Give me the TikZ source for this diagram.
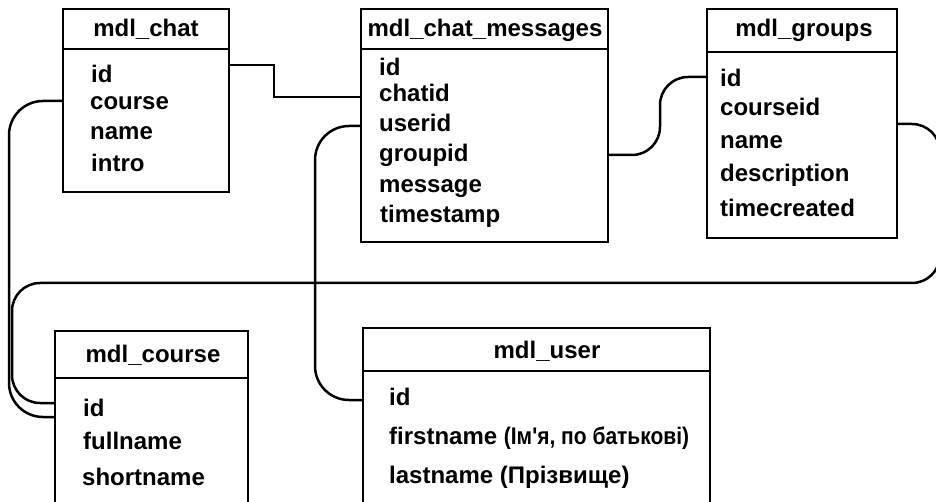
\documentclass[tikz,border=0pt]{standalone}
\usepackage{graphicx}
\usepackage{fontspec}
\setmainfont{Liberation Sans}[Ligatures=TeXOff]
\begin{document}
\begin{tikzpicture}[x=1pt,y=-1pt,
  tbl/.style={draw, line width=2.8pt, anchor=north west, inner sep=0pt, outer sep=0pt},
  hdr/.style={line width=2.8pt},
  ttl/.style={font=\fontsize{24}{28}\selectfont\bfseries, anchor=base, inner sep=0pt},
  fld/.style={font=\fontsize{24}{28}\selectfont\bfseries, anchor=base west, inner sep=0pt},
  conn/.style={line width=2.5pt},
]
\useasboundingbox (0,0) rectangle (936,502);
\clip (0,0) rectangle (936,502);

% tables
\node[tbl, minimum width=166pt, minimum height=183pt] (chat) at (63,9) {};
\draw[hdr] (chat.west |- 0,49) -- (chat.east |- 0,49);
\node[ttl] (chatT) at (146,37) {mdl\_chat};
\node[fld] (chat1) at (91,83) {id};
\node[fld] (chat2) at (90,110) {course};
\node[fld] (chat3) at (90,140) {name};
\node[fld] (chat4) at (91,172) {intro};

\node[tbl, minimum width=247pt, minimum height=233pt] (msg) at (361,9) {};
\draw[hdr] (msg.west |- 0,49) -- (msg.east |- 0,49);
\node[ttl] (msgT) at (485,37) {mdl\_chat\_messages};
\node[fld] (msg1) at (379,76) {id};
\node[fld] (msg2) at (379,102) {chatid};
\node[fld] (msg3) at (379,132) {userid};
\node[fld] (msg4) at (379,162) {groupid};
\node[fld] (msg5) at (379,193) {message};
\node[fld] (msg6) at (380,223) {timestamp};

\node[tbl, minimum width=190pt, minimum height=229pt] (grp) at (707,9) {};
\draw[hdr] (grp.west |- 0,52) -- (grp.east |- 0,52);
\node[ttl] (grpT) at (804,37) {mdl\_groups};
\node[fld] (grp1) at (720,87) {id};
\node[fld] (grp2) at (720,116) {courseid};
\node[fld] (grp3) at (720,149) {name};
\node[fld] (grp4) at (720,182) {description};
\node[fld] (grp5) at (720,217) {timecreated};

\node[tbl, minimum width=193pt, minimum height=200pt] (crs) at (55,331) {};
\draw[hdr] (crs.west |- 0,378) -- (crs.east |- 0,378);
\node[ttl] (crsT) at (153,362) {mdl\_course};
\node[fld] (crs1) at (83,416) {id};
\node[fld] (crs2) at (83,449) {fullname};
\node[fld] (crs3) at (82,485) {shortname};

\node[tbl, minimum width=347pt, minimum height=204pt] (usr) at (363,328) {};
\draw[hdr] (usr.west |- 0,371) -- (usr.east |- 0,371);
\node[ttl] (usrT) at (547,358) {mdl\_user};
\node[fld] (usr1) at (389,405) {id};
\node[fld] (usr2) at (389,444) {firstname \scalebox{0.875}[1]{(Ім'я, по батькові)}};
\node[fld] (usr3) at (389,483) {lastname (Прізвище)};

% connectors
\draw[conn] (chat.east |- 0,65) -- (274,65) -- (274,97) -- (msg.west |- 0,97);
\draw[conn, rounded corners=34pt] (chat.west |- 0,101) -- (9,101) -- (9,417) -- (crs.west |- 0,417);
\draw[conn, rounded corners=28pt] (grp.east |- 0,124) -- (940,124) -- (940,283) -- (12,283) -- (12,403) -- (crs.west |- 0,403);
\draw[conn, rounded corners=34pt] (msg.west |- 0,126) -- (315,126) -- (315,400) -- (usr.west |- 0,400);
\draw[conn, rounded corners=28pt] (msg.east |- 0,155) -- (660,155) -- (660,77) -- (grp.west |- 0,77);
\end{tikzpicture}
\end{document}
